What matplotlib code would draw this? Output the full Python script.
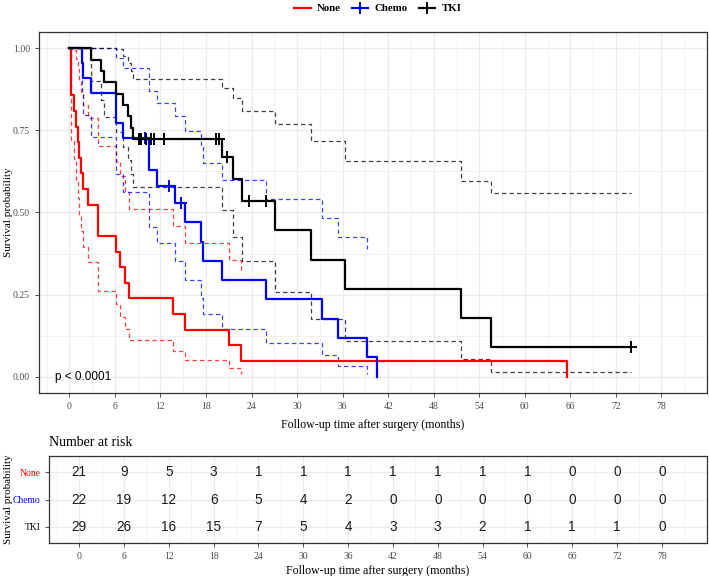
import numpy as np
import matplotlib
matplotlib.use("Agg")
import matplotlib.pyplot as plt
from matplotlib.lines import Line2D
from matplotlib.ticker import MultipleLocator

# ---------------- data ----------------
groups = ["None", "Chemo", "TKI"]
colors = ["#FF0000", "#0000FF", "#000000"]

# follow-up times (months) and status (1 = death, 0 = censored)
none_time = [0.25, 0.25, 0.25, 0.6, 0.9, 1.1, 1.3, 1.5, 1.8, 2.45, 3.8, 3.8,
             6.2, 6.7, 7.35, 7.85, 13.6, 15.2, 21.0, 22.6, 65.5]
none_status = [1] * 21

chemo_time = [1.6, 1.8, 2.9, 6.2, 6.2, 7.1, 9.9, 10.5, 10.5, 11.6, 13.1, 13.9,
              14.7, 15.2, 17.3, 17.6, 20.1, 25.9, 33.3, 35.4, 39.2, 40.5]
chemo_status = [1, 1, 1, 1, 1, 1, 0, 1, 1, 1, 0, 1,
                0, 1, 1, 1, 1, 1, 1, 1, 1, 1]

tki_time = [2.9, 4.2, 4.6, 6.1, 7.0, 7.7, 8.1, 8.4, 9.2, 9.5, 10.1, 10.8, 11.2,
            12.5, 19.3, 19.7, 20.1, 20.8, 20.8, 21.5, 22.8, 23.7, 25.9, 27.1,
            31.8, 36.3, 51.6, 55.5, 74.0]
tki_status = [1, 1, 1, 1, 1, 1, 1, 1, 0, 0, 0, 0, 0,
              0, 0, 0, 1, 0, 0, 1, 1, 0, 0, 1,
              1, 1, 1, 1, 0]

risk_times = [0, 6, 12, 18, 24, 30, 36, 42, 48, 54, 60, 66, 72, 78]
risk_none = [21, 9, 5, 3, 1, 1, 1, 1, 1, 1, 1, 0, 0, 0]
risk_chemo = [22, 19, 12, 6, 5, 4, 2, 0, 0, 0, 0, 0, 0, 0]
risk_tki = [29, 26, 16, 15, 7, 5, 4, 3, 3, 2, 1, 1, 1, 0]

p_text = "p < 0.0001"


def km(times, status):
    times = np.asarray(times, float)
    status = np.asarray(status, int)
    S, var = 1.0, 0.0
    T, Sv, lo, hi, cens = [0.0], [1.0], [1.0], [1.0], []
    for t in np.unique(times):
        n = np.sum(times >= t)
        d = np.sum((times == t) & (status == 1))
        c = np.sum((times == t) & (status == 0))
        if d > 0:
            S *= (n - d) / n
            var = var + d / (n * (n - d)) if n > d else np.nan
        T.append(t)
        Sv.append(S)
        if S > 0 and np.isfinite(var):
            se = np.sqrt(var)
            lo.append(S * np.exp(-1.96 * se))
            hi.append(min(1.0, S * np.exp(1.96 * se)))
        else:
            lo.append(np.nan)
            hi.append(np.nan)
        if c > 0:
            cens.append((t, S))
    return np.array(T), np.array(Sv), np.array(lo), np.array(hi), cens


serif = "Liberation Serif"
sans = "Liberation Sans"
grid_c = "#EBEBEB"
border_c = "#333333"
tick_c = "#4D4D4D"

fig = plt.figure(figsize=(7.09, 5.76), dpi=100)
ax = fig.add_axes([39 / 709, 1 - 393 / 576, 668 / 709, 361 / 576])
ax2 = fig.add_axes([49.3 / 709, 1 - 543.3 / 576, 657.4 / 709, 87.3 / 576])

data = [(none_time, none_status), (chemo_time, chemo_status), (tki_time, tki_status)]
for (tt, ss), col in zip(data, colors):
    T, Sv, lo, hi, cens = km(tt, ss)
    for arr in (lo, hi):
        m = np.isfinite(arr)
        ax.step(T[m], arr[m], where="post", color=col, lw=0.9, ls=(0, (3.5, 2.5)),
                alpha=0.75, zorder=2)
    ax.step(T, Sv, where="post", color=col, lw=1.6, zorder=3)
    if cens:
        cx, cy = zip(*cens)
        ax.plot(cx, cy, ls="none", marker="+", ms=8, mew=1.4, color=col, zorder=4)


def style(a):
    a.set_facecolor("white")
    a.grid(which="major", color=grid_c, lw=0.9, zorder=0)
    a.grid(which="minor", color=grid_c, lw=0.5, zorder=0)
    a.set_axisbelow(True)
    for sp in a.spines.values():
        sp.set_color(border_c)
        sp.set_linewidth(0.9)
    a.tick_params(which="major", length=3, width=0.6, color=border_c,
                  labelcolor=tick_c, labelsize=7.0)
    a.tick_params(which="minor", length=0)
    for lab in a.get_xticklabels() + a.get_yticklabels():
        lab.set_family(serif)


ax.set_xlim(-4, 84)
ax.set_ylim(-0.05, 1.05)
ax.set_xticks(range(0, 79, 6))
ax.set_xticks(np.arange(-3, 84, 6), minor=True)
ax.set_yticks([0, 0.25, 0.5, 0.75, 1.0])
ax.set_yticklabels(["0.00", "0.25", "0.50", "0.75", "1.00"])
ax.yaxis.set_minor_locator(MultipleLocator(0.125))
style(ax)
ax.set_xlabel("Follow-up time after surgery (months)", family=serif, fontsize=8.6)
ax.xaxis.set_label_coords(0.5, -0.071)
ax.set_ylabel("Survival probability", family=serif, fontsize=8.0, va="center")
ax.yaxis.set_label_coords((8.5 - 39) / 668, 0.5)
ax.text(-1.9, 0.0, p_text, family=sans, fontsize=8.5, va="center", ha="left")

# risk table
ax2.set_xlim(-4, 84)
ax2.set_ylim(0.4, 3.6)
ax2.set_xticks(risk_times)
ax2.set_xticks(np.arange(-3, 84, 6), minor=True)
ax2.set_yticks([3, 2, 1])
ax2.set_yticklabels(groups)
style(ax2)
for lab, col in zip(ax2.get_yticklabels(), colors):
    lab.set_color(col)
    lab.set_fontsize(6.9)
for row, vals in zip([3, 2, 1], [risk_none, risk_chemo, risk_tki]):
    for t, v in zip(risk_times, vals):
        ax2.text(t, row, str(v), family=sans, fontsize=9.8, color="#1A1A1A",
                 ha="center", va="center")
ax2.set_xlabel("Follow-up time after surgery (months)", family=serif, fontsize=8.6)
ax2.xaxis.set_label_coords(0.5, -0.245)
ax2.set_ylabel("Survival probability", family=serif, fontsize=8.0, va="center")
ax2.yaxis.set_label_coords((8.5 - 49.3) / 657.4, 0.5)
ax2.text(0, 1.152, "Number at risk", transform=ax2.transAxes, family=serif,
         fontsize=10, va="center", ha="left")

handles = [Line2D([], [], color=colors[0], lw=1.6),
           Line2D([], [], color=colors[1], lw=1.6, marker="+", ms=8, mew=1.4),
           Line2D([], [], color=colors[2], lw=1.6, marker="+", ms=8, mew=1.4)]
fig.legend(handles, groups, loc="center", bbox_to_anchor=(0.533, 0.985), ncol=3,
           frameon=False, handlelength=1.5, handletextpad=0.6, columnspacing=1.0,
           prop={"family": serif, "weight": "bold", "size": 7.8})

fig.savefig("out.png", dpi=100)
